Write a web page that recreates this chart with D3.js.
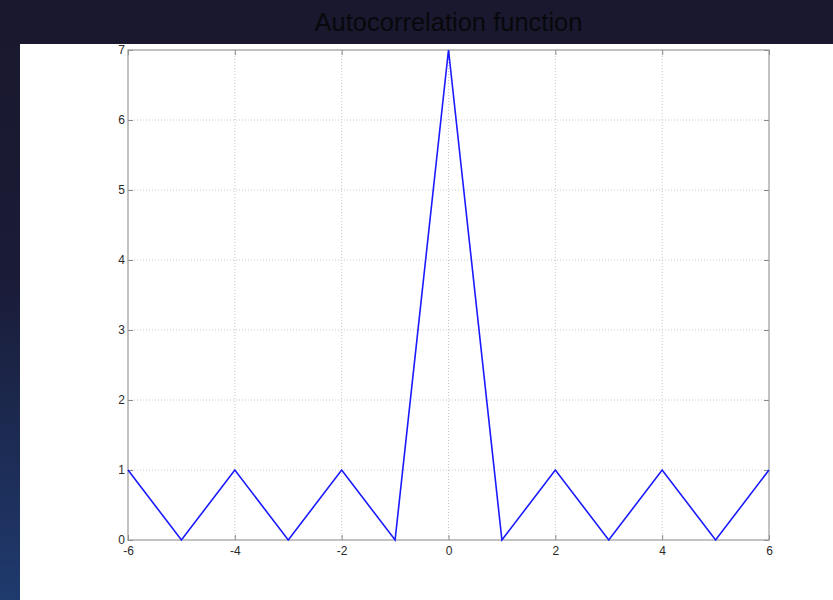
<!DOCTYPE html>
<html>
<head>
<meta charset="utf-8">
<script src="https://cdn.jsdelivr.net/npm/d3@7"></script>
<style>
  body { margin: 0; background: #1a1a30; }
  svg { display: block; }
  .tick text { font-family: "Liberation Sans", Arial, sans-serif; font-size: 12px; fill: #2a2a2a; }
</style>
</head>
<body>
<svg width="833" height="600"></svg>
<script>
// data
const lags = [-6, -5, -4, -3, -2, -1, 0, 1, 2, 3, 4, 5, 6];
const acf = [1, 0, 1, 0, 1, 0, 7, 0, 1, 0, 1, 0, 1];
const xTicks = [-6, -4, -2, 0, 2, 4, 6];
const yTicks = [0, 1, 2, 3, 4, 5, 6, 7];
const title = "Autocorrelation function";

const W = 833, H = 600;
const plotLeft = 128, plotRight = 769, plotTop = 50, plotBottom = 540;

const svg = d3.select("svg");

// background gradient
const defs = svg.append("defs");
const grad = defs.append("linearGradient")
    .attr("id", "bg")
    .attr("x1", 0).attr("y1", 0).attr("x2", 0).attr("y2", 1);
grad.append("stop").attr("offset", "0%").attr("stop-color", "#19182e");
grad.append("stop").attr("offset", "45%").attr("stop-color", "#1a1b36");
grad.append("stop").attr("offset", "100%").attr("stop-color", "#1f3a6e");

svg.append("rect").attr("width", W).attr("height", H).attr("fill", "url(#bg)");
svg.append("rect").attr("width", W).attr("height", 44).attr("fill", "#19182e");

// white figure panel
svg.append("rect")
    .attr("x", 20).attr("y", 44)
    .attr("width", W - 20).attr("height", H - 44)
    .attr("fill", "#ffffff");

svg.append("text")
    .attr("x", (plotLeft + plotRight) / 2)
    .attr("y", 31)
    .attr("text-anchor", "middle")
    .attr("font-family", "Liberation Sans, Arial, sans-serif")
    .attr("font-size", 25.5)
    .attr("fill", "#08080c")
    .text(title);

const x = d3.scaleLinear().domain([-6, 6]).range([plotLeft, plotRight]);
const y = d3.scaleLinear().domain([0, 7]).range([plotBottom, plotTop]);
const fmt = d => String(d);

// grid
svg.append("g").selectAll("line")
    .data(xTicks.slice(1, -1))
    .join("line")
    .attr("x1", d => x(d)).attr("x2", d => x(d))
    .attr("y1", plotTop).attr("y2", plotBottom)
    .attr("stroke", "#c8c8c8").attr("stroke-dasharray", "1,2");

svg.append("g").selectAll("line")
    .data(yTicks.slice(1, -1))
    .join("line")
    .attr("x1", plotLeft).attr("x2", plotRight)
    .attr("y1", d => y(d)).attr("y2", d => y(d))
    .attr("stroke", "#c8c8c8").attr("stroke-dasharray", "1,2");

// axes with inward ticks
const axisStyle = g => {
    g.select(".domain").remove();
    g.selectAll(".tick line").attr("stroke", "#888");
};

svg.append("g")
    .attr("transform", `translate(0,${plotBottom})`)
    .call(d3.axisBottom(x).tickValues(xTicks).tickSize(-5).tickPadding(6).tickFormat(fmt))
    .call(axisStyle);

svg.append("g")
    .attr("transform", `translate(0,${plotTop})`)
    .call(d3.axisTop(x).tickValues(xTicks).tickSize(-5).tickFormat(""))
    .call(axisStyle);

svg.append("g")
    .attr("transform", `translate(${plotLeft},0)`)
    .call(d3.axisLeft(y).tickValues(yTicks).tickSize(-5).tickPadding(3).tickFormat(fmt))
    .call(axisStyle);

svg.append("g")
    .attr("transform", `translate(${plotRight},0)`)
    .call(d3.axisRight(y).tickValues(yTicks).tickSize(-5).tickFormat(""))
    .call(axisStyle);

// box
svg.append("rect")
    .attr("x", plotLeft).attr("y", plotTop)
    .attr("width", plotRight - plotLeft).attr("height", plotBottom - plotTop)
    .attr("fill", "none").attr("stroke", "#999").attr("stroke-width", 1.2);

// line
const line = d3.line()
    .x((d, i) => x(lags[i]))
    .y(d => y(d));

svg.append("path")
    .datum(acf)
    .attr("d", line)
    .attr("fill", "none")
    .attr("stroke", "#1a1aff")
    .attr("stroke-width", 1.6)
    .attr("stroke-linejoin", "miter");
</script>
</body>
</html>
